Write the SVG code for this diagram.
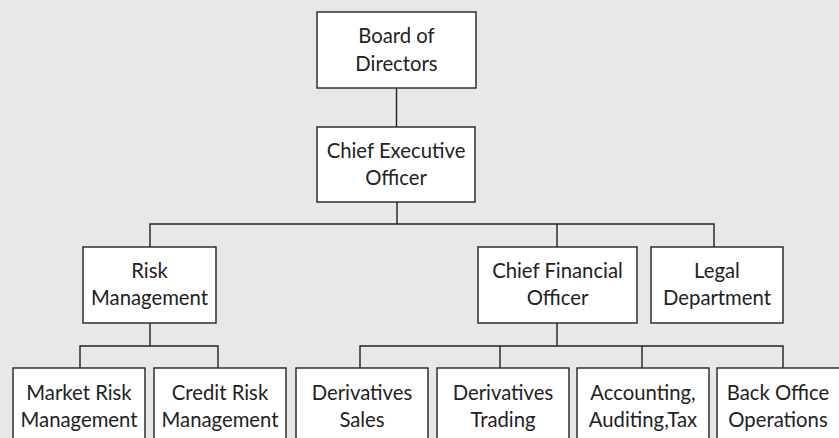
<svg xmlns="http://www.w3.org/2000/svg" width="839" height="438" viewBox="0 0 839 438">
<style>
.box{fill:#fff;stroke:#222;stroke-width:1.4}
.ln{fill:none;stroke:#222;stroke-width:1.4}
text{font-family:Lato,"Open Sans",sans-serif;font-size:20.3px;fill:#222;text-anchor:middle}
</style>
<rect x="0" y="0" width="839" height="438" fill="#e8e8e8"/>
<g id="connectors">
<path class="ln" d="M396.5 88V127"/>
<path class="ln" d="M397 202V224M150 247V224H714V247M557 224V247"/>
<path class="ln" d="M150 323V346M80 368V346H218V368"/>
<path class="ln" d="M557 323V346M360 368V346H783V368M500 346V368M642 346V368"/>
</g>
<g id="board"><rect class="box" x="317" y="12" width="159" height="76"/><text x="396.5" y="43">Board of</text><text x="396.5" y="71">Directors</text></g>
<g id="ceo"><rect class="box" x="317" y="127" width="158" height="75"/><text x="396" y="158">Chief Executive</text><text x="396" y="185">Officer</text></g>
<g id="risk"><rect class="box" x="83" y="247" width="133" height="76"/><text x="149.5" y="278">Risk</text><text x="149.5" y="305">Management</text></g>
<g id="cfo"><rect class="box" x="478" y="247" width="159" height="76"/><text x="557.5" y="278">Chief Financial</text><text x="557.5" y="305">Officer</text></g>
<g id="legal"><rect class="box" x="651" y="247" width="132" height="76"/><text x="717" y="278">Legal</text><text x="717" y="305">Department</text></g>
<g id="market"><rect class="box" x="13" y="368" width="132" height="80"/><text x="79" y="400">Market Risk</text><text x="79" y="427">Management</text></g>
<g id="credit"><rect class="box" x="154" y="368" width="132" height="80"/><text x="220" y="400">Credit Risk</text><text x="220" y="427">Management</text></g>
<g id="sales"><rect class="box" x="296" y="368" width="132" height="80"/><text x="362" y="400">Derivatives</text><text x="362" y="427">Sales</text></g>
<g id="trading"><rect class="box" x="437" y="368" width="132" height="80"/><text x="503" y="400">Derivatives</text><text x="503" y="427">Trading</text></g>
<g id="accounting"><rect class="box" x="577" y="368" width="132" height="80"/><text x="643" y="400">Accounting,</text><text x="643" y="427">Auditing,Tax</text></g>
<g id="backoffice"><rect class="box" x="717" y="368" width="132" height="80"/><text x="778" y="400">Back Office</text><text x="778" y="427">Operations</text></g>
</svg>
